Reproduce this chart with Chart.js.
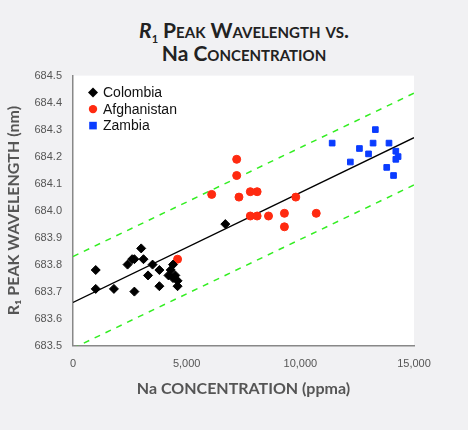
<!DOCTYPE html>
<html><head><meta charset="utf-8">
<script src="https://cdn.jsdelivr.net/npm/chart.js@4"></script>
<style>
html,body{margin:0;padding:0;background:#f1f1f3;width:468px;height:430px;overflow:hidden}
#t{position:absolute;left:20px;width:448px;top:18px;text-align:center;font-family:Lato,"Open Sans",sans-serif;font-weight:bold;font-size:21px;line-height:23px;color:#222;font-variant:small-caps}
#t .s{font-size:11px;position:relative;top:5px;line-height:0}
#t .n{font-variant:normal}
#wrap{position:absolute;left:0;top:66px;width:468px;height:364px}
</style></head><body>
<div id="t"><i>R</i><span class="s">1</span> Peak Wavelength vs.<br><span class="n">Na</span> Concentration</div>
<div id="wrap"><canvas id="c" width="468" height="364"></canvas></div>
<script>
const colombiaX=[1000,1000,1800,2400,2600,2700,2700,3000,3100,3300,3500,3800,3800,4200,4300,4400,4400,4600,4600,4500,6700];
const colombiaY=[683.78,683.71,683.71,683.80,683.82,683.82,683.70,683.86,683.82,683.76,683.80,683.78,683.72,683.76,683.78,683.80,683.75,683.74,683.72,683.76,683.95];
const afghanX=[4600,6100,7200,7200,7300,7800,7800,8100,8100,8600,9300,9300,9800,10700];
const afghanY=[683.82,684.06,684.19,684.13,684.05,683.98,684.07,684.07,683.98,683.98,683.99,683.94,684.05,683.99];
const zambiaX=[11400,12200,12600,13000,13200,13300,13800,13900,14100,14200,14300,14200];
const zambiaY=[684.25,684.18,684.23,684.21,684.25,684.30,684.16,684.25,684.13,684.22,684.20,684.19];
const lineX=[0,15000];
const fitY=[683.66,684.27];
const upperY=[683.83,684.435];
const lowerY=[683.49,684.095];
const xTicks=[0,5000,10000,15000];
const pts=(xs,ys)=>xs.map((x,i)=>({x:x,y:ys[i]}));
const series=[
 {label:'Colombia',color:'#000000',style:'rectRot'},
 {label:'Afghanistan',color:'#ff2a10',style:'circle'},
 {label:'Zambia',color:'#0a3cff',style:'rect'}];
const bg={id:'bg',beforeDraw(ch){const a=ch.chartArea,c=ch.ctx;c.save();c.fillStyle='#fff';c.fillRect(a.left,a.top,a.right-a.left,a.bottom-a.top);c.restore();}};
const leg={id:'leg',afterDraw(ch){const a=ch.chartArea,c=ch.ctx;c.save();c.font='14px "Liberation Sans",Arial,sans-serif';c.textBaseline='middle';
 series.forEach((s,i)=>{const y=a.top+17+i*16.5,x=a.left+20;c.fillStyle=s.color;c.beginPath();
 if(s.style==='rectRot'){c.moveTo(x,y-5);c.lineTo(x+5,y);c.lineTo(x,y+5);c.lineTo(x-5,y);}
 else if(s.style==='circle'){c.arc(x,y,4.2,0,Math.PI*2);} else {c.rect(x-3.8,y-3.8,7.6,7.6);}
 c.fill();c.fillStyle='#111';c.fillText(s.label,x+10,y+1);});c.restore();}};
const lineDs=(ys,dash,col,w)=>({type:'line',data:pts(lineX,ys),borderColor:col,borderWidth:w,borderDash:dash,pointRadius:0,fill:false,order:2});
new Chart(document.getElementById('c'),{
 type:'scatter',
 data:{datasets:[
  {data:pts(colombiaX,colombiaY),backgroundColor:'#000',borderColor:'#000',pointStyle:'rectRot',pointRadius:4.5,order:1},
  {data:pts(afghanX,afghanY),backgroundColor:'#ff2a10',borderColor:'#ff2a10',pointStyle:'circle',pointRadius:4,order:1},
  {data:pts(zambiaX,zambiaY),backgroundColor:'#0a3cff',borderColor:'#0a3cff',pointStyle:'rect',pointRadius:4,order:1},
  lineDs(fitY,[],'#000',1.3),
  lineDs(upperY,[6,6],'#33ee22',1.5),
  lineDs(lowerY,[6,6],'#33ee22',1.5)
 ]},
 options:{responsive:false,animation:false,devicePixelRatio:1,
  layout:{padding:{top:8,right:54,bottom:28,left:0}},
  plugins:{legend:{display:false},tooltip:{enabled:false}},
  scales:{
   x:{type:'linear',min:0,max:15000,afterBuildTicks(s){s.ticks=xTicks.map(v=>({value:v}));},
    grid:{display:false,drawTicks:true},border:{color:'#888',width:1.5},
    ticks:{color:'#555',font:{size:11,family:'"Liberation Sans",Arial'},callback:v=>v.toLocaleString('en-US'),padding:4},
    title:{display:true,text:'Na CONCENTRATION (ppma)',color:'#555',font:{size:16,weight:'bold',family:'Lato'},padding:{top:4}}},
   y:{min:683.5,max:684.5,afterFit(s){s.width=73;},
    ticks:{stepSize:0.1,color:'#555',font:{size:11,family:'"Liberation Sans",Arial'},callback:v=>v.toFixed(1)},
    grid:{display:false},border:{color:'#888',width:1.5},
    title:{display:true,text:'R\u2081 PEAK WAVELENGTH (nm)',color:'#555',font:{size:16,weight:'bold',family:'Lato'},padding:{bottom:2}}}
  }},
 plugins:[bg,leg]
});
</script>
</body></html>
